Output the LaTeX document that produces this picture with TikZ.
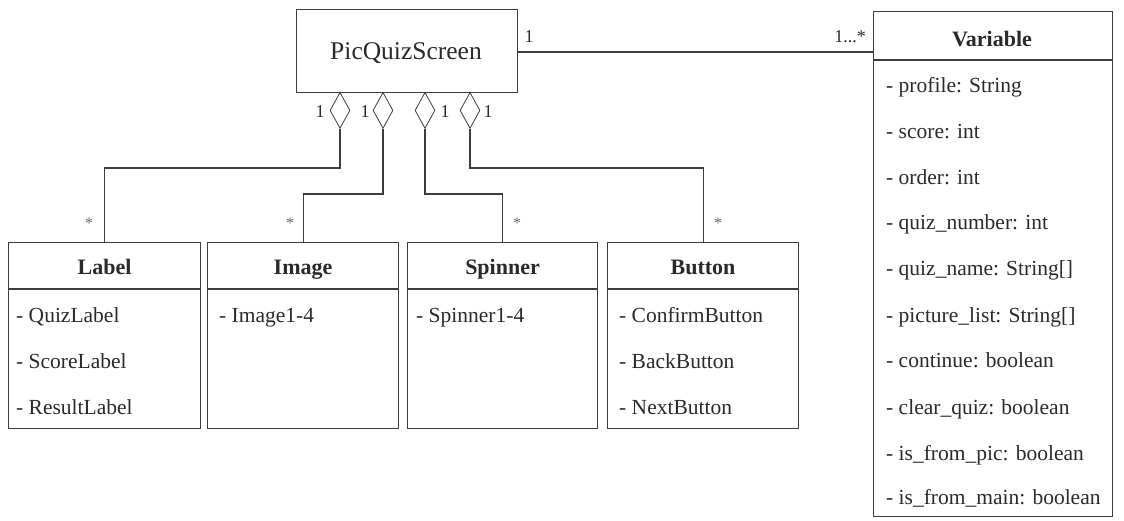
\documentclass[tikz,border=0pt]{standalone}
\usepackage{fontspec}
\setmainfont{Liberation Serif}
\usetikzlibrary{shapes.geometric}
\definecolor{ln}{HTML}{3A3F3C}
\definecolor{tx}{HTML}{2A2A2A}
\begin{document}
\begin{tikzpicture}[x=1pt,y=-1pt,
  box/.style={draw=ln,line width=1.1pt,rectangle,inner sep=0pt,anchor=north west},
  diam/.style={draw=ln,line width=0.8pt,diamond,minimum width=20pt,minimum height=36pt,inner sep=0pt,anchor=north},
  conn/.style={draw=ln,line width=1.1pt},
  title/.style={text=tx,font=\fontsize{22}{24}\selectfont\bfseries,inner sep=0pt,anchor=base},
  attr/.style={text=tx,font=\fontsize{21.5}{24}\selectfont,inner sep=0pt,anchor=base west},
  mult/.style={text=tx,font=\fontsize{18}{20}\selectfont,inner sep=0pt},
  star/.style={text=tx!70,font=\fontsize{16}{18}\selectfont,inner sep=0pt}]
\useasboundingbox[fill=white] (0,0) rectangle (1124,520);

% main class
\node[box,minimum width=221pt,minimum height=83pt] (pqs) at (296,9) {};
\node[text=tx,font=\fontsize{25.5}{28}\selectfont,inner sep=0pt,anchor=base] (pqst) at (406,59) {PicQuizScreen};

% Variable
\node[box,minimum width=239pt,minimum height=505pt] (var) at (873,11) {};
\draw[conn] (var.west |- 0,60) -- (var.east |- 0,60);
\node[title] (vart) at (992,46) {Variable};
\node[attr] (v1) at (886,92) {- profile: String};
\node[attr] (v2) at (886,138) {- score: int};
\node[attr] (v3) at (886,184) {- order: int};
\node[attr] (v4) at (886,229) {- quiz\_number: int};
\node[attr] (v5) at (886,275) {- quiz\_name: String[]};
\node[attr] (v6) at (886,322) {- picture\_list: String[]};
\node[attr] (v7) at (886,367) {- continue: boolean};
\node[attr] (v8) at (886,414) {- clear\_quiz: boolean};
\node[attr] (v9) at (886,460) {- is\_from\_pic: boolean};
\node[attr] (v10) at (886,504) {- is\_from\_main: boolean};

% association
\draw[conn] (pqs.east |- 0,52) -- (var.west |- 0,52);
\node[mult] (m1) at (529,37) {1};
\node[mult] (m2) at (850,37) {1...*};

% bottom classes
\node[box,minimum width=192pt,minimum height=186pt] (lab) at (8,242) {};
\node[box,minimum width=191pt,minimum height=186pt] (img) at (207,242) {};
\node[box,minimum width=190pt,minimum height=186pt] (spn) at (407,242) {};
\node[box,minimum width=191pt,minimum height=186pt] (btn) at (607,242) {};
\foreach \b in {lab,img,spn,btn}{
  \draw[conn] (\b.west |- 0,289) -- (\b.east |- 0,289);
}
\node[title] (labt) at (lab.north |- 0,274) {Label};
\node[title] (imgt) at (img.north |- 0,274) {Image};
\node[title] (spnt) at (spn.north |- 0,274) {Spinner};
\node[title] (btnt) at (btn.north |- 0,274) {Button};

\node[attr] (la1) at (16,322) {- QuizLabel};
\node[attr] (la2) at (16,368) {- ScoreLabel};
\node[attr] (la3) at (16,414) {- ResultLabel};
\node[attr] (ia1) at (219,322) {- Image1-4};
\node[attr] (sa1) at (416,322) {- Spinner1-4};
\node[attr] (ba1) at (619,322) {- ConfirmButton};
\node[attr] (ba2) at (619,368) {- BackButton};
\node[attr] (ba3) at (619,414) {- NextButton};

% aggregation diamonds
\node[diam] (d1) at (340,92) {};
\node[diam] (d2) at (383,92) {};
\node[diam] (d3) at (425,92) {};
\node[diam] (d4) at (470,92) {};
\node[mult] (n1) at (320,112) {1};
\node[mult] (n2) at (365,112) {1};
\node[mult] (n3) at (445,112) {1};
\node[mult] (n4) at (488,112) {1};

\coordinate (k1) at (340,168);
\coordinate (k2) at (383,194);
\coordinate (k3) at (425,194);
\coordinate (k4) at (470,168);
\draw[conn] (d1.south) -- (k1) -| (lab.north);
\draw[conn] (d2.south) -- (k2) -| (img.north);
\draw[conn] (d3.south) -- (k3) -| (spn.north);
\draw[conn] (d4.south) -- (k4) -| (btn.north);

\node[star] (s1) at (89,223) {*};
\node[star] (s2) at (290,223) {*};
\node[star] (s3) at (517,223) {*};
\node[star] (s4) at (718,223) {*};
\end{tikzpicture}
\end{document}
